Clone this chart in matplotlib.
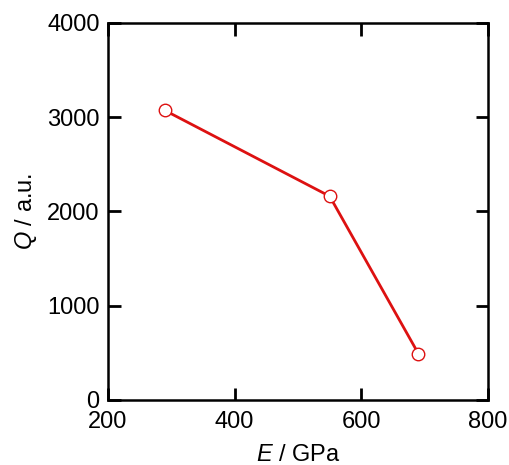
import matplotlib

matplotlib.use("Agg")
import matplotlib.pyplot as plt

plt.rcParams["font.family"] = ["Liberation Sans", "DejaVu Sans"]
plt.rcParams["mathtext.fontset"] = "custom"
plt.rcParams["mathtext.it"] = "Liberation Sans:italic"
plt.rcParams["mathtext.rm"] = "Liberation Sans"

E = [290, 550, 690]
Q = [3070, 2160, 490]
xticks = [200, 400, 600, 800]
yticks = [0, 1000, 2000, 3000, 4000]

fig = plt.figure(figsize=(5.09, 4.65), dpi=100)
ax = fig.add_axes([0.212, 0.140, 0.747, 0.811])

ax.plot(E, Q, "-o", color="#dd1111", lw=2.0, ms=9,
        mfc="white", mec="#dd1111", mew=1.0)

ax.set_xlim(200, 800)
ax.set_ylim(0, 4000)
ax.set_xticks(xticks)
ax.set_yticks(yticks)
ax.tick_params(direction="in", length=9, width=2, labelsize=17,
               top=True, right=True)
ax.tick_params(axis="x", pad=8)
ax.tick_params(axis="y", pad=6)
for s in ax.spines.values():
    s.set_linewidth(1.8)

ax.set_xlabel("$E$ / GPa", fontsize=17, labelpad=8)
ax.set_ylabel("$Q$ / a.u.", fontsize=17, labelpad=6)

fig.savefig("out.png", dpi=100)
